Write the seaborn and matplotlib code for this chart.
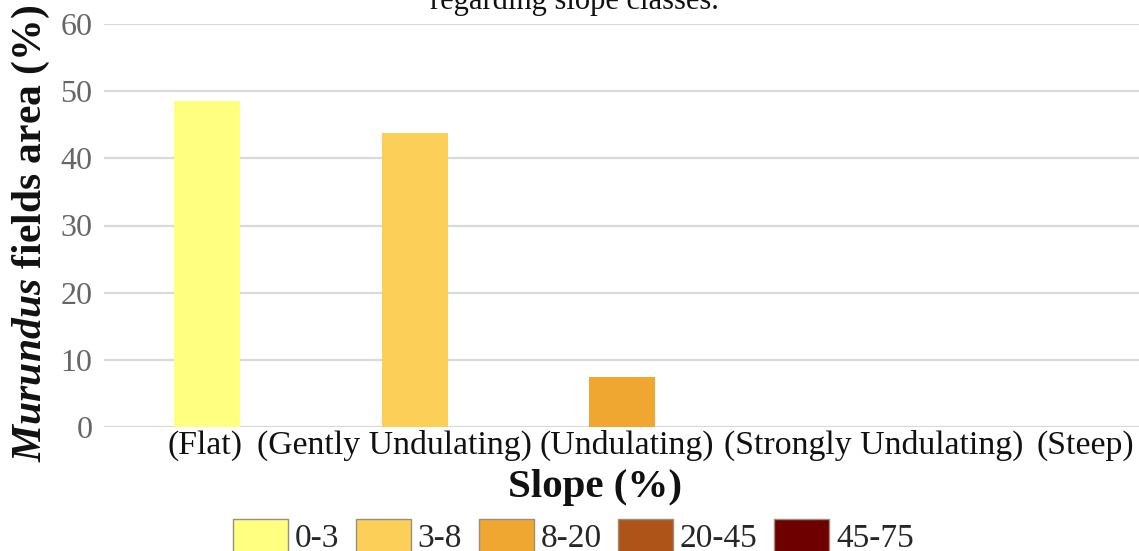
import numpy as np
import pandas as pd
import matplotlib
matplotlib.use("Agg")
import matplotlib.pyplot as plt
from matplotlib.patches import Patch
import seaborn as sns

# ---- data ----
slope_classes = ["0-3", "3-8", "8-20", "20-45", "45-75"]
relief_labels = ["(Flat)", "(Gently Undulating)", "(Undulating)",
                 "(Strongly Undulating)", "(Steep)"]
area_pct = [48.5, 43.8, 7.5, 0.05, 0.0]
class_colors = ["#FFFF80", "#FBCF58", "#F0A732", "#AE5418", "#6E0000"]
y_ticks = [0, 10, 20, 30, 40, 50, 60]

# ---- layout (not data) ----
label_shift = [-0.012, -0.099, 0.02, 0.21, 0.23]

sns.set_style("white")
plt.rcParams["font.family"] = ["Liberation Serif", "DejaVu Serif"]
plt.rcParams["mathtext.fontset"] = "custom"
plt.rcParams["mathtext.rm"] = "Liberation Serif"
plt.rcParams["mathtext.it"] = "Liberation Serif:italic"
plt.rcParams["mathtext.bf"] = "Liberation Serif:bold"
plt.rcParams["mathtext.bfit"] = "Liberation Serif:italic:bold"

W, H = 1139, 551
fig = plt.figure(figsize=(W / 100, H / 100), dpi=100)
left, right, top, bottom = 103.5, 1141, 24, 427
ax = fig.add_axes([left / W, (H - bottom) / H, (right - left) / W, (bottom - top) / H])

df = pd.DataFrame({"cls": slope_classes, "area": area_pct})
sns.barplot(data=df, x="cls", y="area", hue="cls", palette=class_colors,
            width=0.32, legend=False, ax=ax, saturation=1, linewidth=0)

ax.set_xlim(-0.5, 4.5)
ax.set_ylim(0, 60)
ax.set_yticks(y_ticks)
ax.grid(axis="y", color="#d9d9d9", linewidth=1.6)
ax.set_axisbelow(True)
for s in ax.spines.values():
    s.set_visible(False)

ax.set_xticks(np.arange(len(relief_labels)) + np.array(label_shift))
ax.set_xticklabels(relief_labels, fontsize=24.3, color="#111111")
ax.tick_params(axis="x", length=0, pad=2)
ax.tick_params(axis="y", length=0, pad=8, labelsize=23, labelcolor="#666666")

ax.set_xlabel("Slope (%)", fontsize=29.5, fontweight="bold", color="#111111")
ax.xaxis.set_label_coords((595 - left) / (right - left), (bottom - 469) / (bottom - top))
ax.set_ylabel(r"$\mathbfit{Murundus}$ fields area (%)", fontsize=30,
              fontweight="bold", color="#111111", va="center")
ax.yaxis.set_label_coords((31 - left) / (right - left), (bottom - 233) / (bottom - top))

handles = [Patch(facecolor=c, edgecolor="#9a8f78", linewidth=1.0) for c in class_colors]
fig.legend(handles, slope_classes, loc="upper center", ncol=5, frameon=False,
           bbox_to_anchor=(573.5 / W, 1 - 519 / H), borderpad=0, borderaxespad=0,
           fontsize=24, handlelength=1.65, handleheight=1.2, handletextpad=0.2,
           columnspacing=0.5)

fig.text(574 / W, 1 - 9 / H, "regarding slope classes.", ha="center", va="baseline",
         fontsize=22, color="#111111")

fig.savefig("out.png", dpi=100)
